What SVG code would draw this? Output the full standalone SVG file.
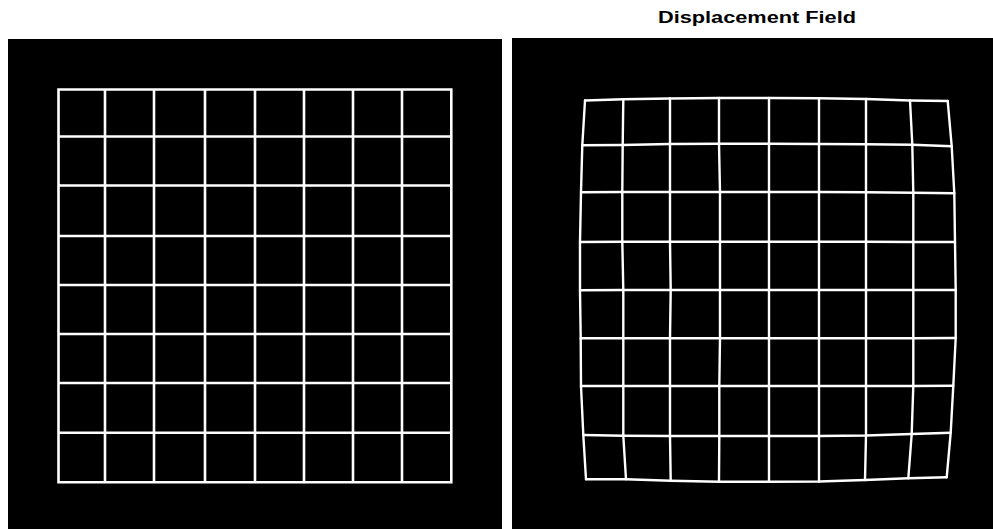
<svg xmlns="http://www.w3.org/2000/svg" width="993" height="529" viewBox="0 0 993 529">
<style>
.panel{fill:#000}
.grid{fill:none;stroke:#fff;stroke-width:2.6;stroke-linejoin:round;stroke-linecap:square}
.warp{fill:none;stroke:#fff;stroke-width:2.4;stroke-linejoin:round;stroke-linecap:round}
.title{font-family:"Liberation Sans",Arial,sans-serif;font-weight:bold;font-size:16px;fill:#000}
</style>
<rect width="993" height="529" fill="#fff"/>
<g id="title">
<text class="title" x="757" y="23" text-anchor="middle" textLength="198" lengthAdjust="spacingAndGlyphs">Displacement Field</text>
</g>
<g id="left-panel">
<rect class="panel" x="8" y="39" width="494" height="490"/>
<path class="grid" d="M58.5,89.5V482.3M105,89.5V482.3M154,89.5V482.3M205,89.5V482.3M255,89.5V482.3M304,89.5V482.3M353,89.5V482.3M402,89.5V482.3M451.3,89.5V482.3
M58.5,89.5H451.3M58.5,136.5H451.3M58.5,185.5H451.3M58.5,236H451.3M58.5,285H451.3M58.5,334H451.3M58.5,383H451.3M58.5,432.7H451.3M58.5,482.3H451.3"/>
</g>
<g id="right-panel">
<rect class="panel" x="512" y="38" width="481" height="491"/>
<g id="warped-rows">
<polyline class="warp" points="585,100.5 623.3,99.3 670,98.5 719,98 769,98 819,98.3 866,99 910,100.5 947.7,101"/>
<polyline class="warp" points="582.3,145.3 622.7,145 670,144 719,143.7 769,143.7 819,144 866,144.3 912.3,144.7 951.7,146.3"/>
<polyline class="warp" points="581,192.3 622.3,192 670,192 720,192 769,192 819,192 866,192.3 913.3,192.7 954.3,193.3"/>
<polyline class="warp" points="580,242 622.3,241.7 670,241.7 720,241.7 769,241.7 819,241.7 866,241.7 913.3,242 955,242"/>
<polyline class="warp" points="580,290.3 623.3,290 670.7,290 720,290 769,290 819,290 866,290 913.3,290 955.7,290"/>
<polyline class="warp" points="580.7,338.3 623.3,338.3 670,338.3 720,338.3 769,338.3 819,338.3 866,338.3 913.3,338.3 955.7,338"/>
<polyline class="warp" points="581,386 623.3,386 670,386 719.3,386 769,386 819,386 866,386 913.3,386 953.3,385.7"/>
<polyline class="warp" points="583.3,435 623.3,435.7 670,436 719.3,436 769,436 819,436 866,435.5 911.7,434 950.7,432.7"/>
<polyline class="warp" points="586,479.3 626,479.3 670.7,480.7 719,481.7 769,481.7 819,481.5 865,480 908.3,478.3 946.7,477.3"/>
</g>
<g id="warped-columns">
<polyline class="warp" points="585,100.5 582.3,145.3 581,192.3 580,242 580,290.3 580.7,338.3 581,386 583.3,435 586,479.3"/>
<polyline class="warp" points="623.3,99.3 622.7,145 622.3,192 622.3,241.7 623.3,290 623.3,338.3 623.3,386 623.3,435.7 626,479.3"/>
<polyline class="warp" points="670,98.5 670,144 670,192 670,241.7 670.7,290 670,338.3 670,386 670,436 670.7,480.7"/>
<polyline class="warp" points="719,98 719,143.7 720,192 720,241.7 720,290 720,338.3 719.3,386 719.3,436 719,481.7"/>
<polyline class="warp" points="769,98 769,143.7 769,192 769,241.7 769,290 769,338.3 769,386 769,436 769,481.7"/>
<polyline class="warp" points="819,98.3 819,144 819,192 819,241.7 819,290 819,338.3 819,386 819,436 819,481.5"/>
<polyline class="warp" points="866,99 866,144.3 866,192.3 866,241.7 866,290 866,338.3 866,386 866,435.5 865,480"/>
<polyline class="warp" points="910,100.5 912.3,144.7 913.3,192.7 913.3,242 913.3,290 913.3,338.3 913.3,386 911.7,434 908.3,478.3"/>
<polyline class="warp" points="947.7,101 951.7,146.3 954.3,193.3 955,242 955.7,290 955.7,338 953.3,385.7 950.7,432.7 946.7,477.3"/>
</g>
</g>
</svg>
